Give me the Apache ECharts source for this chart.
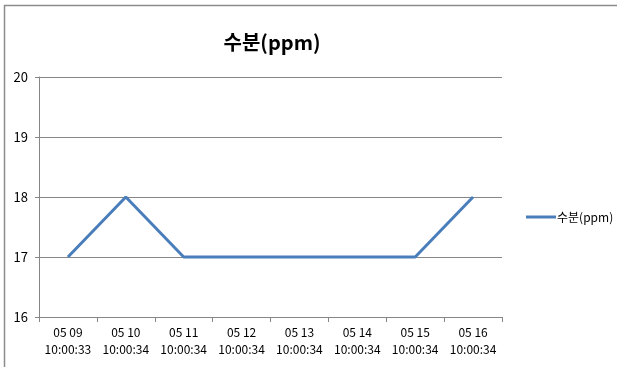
<!DOCTYPE html>
<html><head><meta charset="utf-8">
<script src="https://cdn.jsdelivr.net/npm/echarts@6/dist/echarts.min.js"></script>
<style>html,body{margin:0;padding:0;background:#fff}#c{width:617px;height:367px}</style>
</head><body><div id="c"></div>
<script>
const categories = ["05 09\n10:00:33","05 10\n10:00:34","05 11\n10:00:34","05 12\n10:00:34","05 13\n10:00:34","05 14\n10:00:34","05 15\n10:00:34","05 16\n10:00:34"];
const values = [17, 18, 17, 17, 17, 17, 17, 18];
const seriesName = "수분(ppm)";
const titleText = "수분(ppm)";
const font = "'Noto Sans CJK KR', 'Noto Sans', sans-serif";
const chart = echarts.init(document.getElementById('c'), null, {renderer:'canvas'});
chart.setOption({
  animation:false,
  backgroundColor:'#fff',
  textStyle:{fontFamily:font},
  graphic:[{type:'rect',shape:{x:4.5,y:5.5,width:700,height:400},style:{fill:'none',stroke:'#8c8c8c',lineWidth:1.5}}],
  title:{text:titleText,left:267,top:27,textAlign:'center',textStyle:{fontFamily:font,fontSize:20,fontWeight:'bold',color:'#000'}},
  legend:{left:521,top:206,itemWidth:30,itemHeight:12,itemGap:2,icon:'path://M0,5 L30,5 L30,8 L0,8 Z',textStyle:{fontFamily:font,fontSize:12,color:'#000',padding:[0,0,0,-4]},data:[seriesName]},
  grid:{left:39,top:77,width:463,height:240,containLabel:false},
  xAxis:{type:'category',data:categories,boundaryGap:true,
    axisLine:{lineStyle:{color:'#868686',width:1}},
    axisTick:{show:true,interval:0,length:5,lineStyle:{color:'#868686'}},
    axisLabel:{interval:0,fontFamily:font,fontSize:12,color:'#000',lineHeight:17,margin:7},
    splitLine:{show:false}},
  yAxis:{type:'value',min:16,max:20,interval:1,
    axisLine:{show:true,lineStyle:{color:'#868686',width:1}},
    axisTick:{show:true,length:4,lineStyle:{color:'#868686'}},
    axisLabel:{fontFamily:font,fontSize:13,color:'#000',margin:11},
    splitLine:{lineStyle:{color:'#868686',width:1}}},
  series:[{name:seriesName,type:'line',data:values,symbol:'none',lineStyle:{color:'#4a7ebb',width:3},itemStyle:{color:'#4a7ebb'}}]
});
</script></body></html>
